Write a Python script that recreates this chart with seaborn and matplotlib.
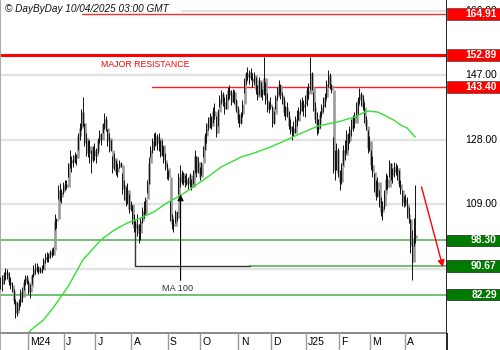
import numpy as np
import pandas as pd
import matplotlib
matplotlib.use("Agg")
import matplotlib.pyplot as plt
from matplotlib.patches import Rectangle
import matplotlib.transforms as mtransforms
import seaborn as sns

# ---------------- data (daily bars) ----------------
highs = [
    87.5, 88.0, 89.0, 90.2, 90.0, 89.0, 87.5, 86.0, 84.0, 81.0,
    80.0, 81.0, 84.0, 84.6, 87.0, 88.1, 88.0, 86.5, 85.5, 88.5,
    91.0, 91.6, 91.5, 90.8, 90.5, 91.0, 93.0, 94.5, 95.0, 94.5,
    95.5, 96.0, 96.2, 106.0, 105.0, 114.5, 115.2, 113.5, 115.5, 116.1,
    116.0, 121.0, 124.9, 123.0, 123.5, 124.3, 123.8, 130.0, 132.9, 137.0,
    140.5, 133.0, 130.0, 128.0, 127.9, 125.0, 126.0, 127.0, 125.5, 128.5,
    130.8, 130.0, 133.0, 135.8, 135.0, 131.0, 129.9, 128.0, 123.0, 124.0,
    122.0, 121.0, 122.0, 121.5, 118.1, 116.0, 114.0, 115.2, 112.0, 110.0,
    108.7, 106.0, 104.0, 106.0, 103.0, 105.0, 108.0, 110.0, 111.1, 116.0,
    122.8, 126.0, 128.5, 129.9, 130.2, 129.5, 130.0, 128.0, 127.9, 126.0,
    124.0, 121.0, 119.0, 110.2, 106.0, 104.5, 107.2, 107.0, 118.0, 120.5,
    119.0, 118.5, 117.5, 118.0, 117.0, 118.1, 116.5, 119.0, 124.9, 123.0,
    122.8, 120.0, 121.5, 126.0, 130.0, 132.9, 134.5, 135.8, 135.0, 137.5,
    138.8, 135.0, 137.0, 141.0, 142.6, 142.0, 140.5, 141.5, 143.5, 144.1,
    142.5, 143.0, 142.5, 140.0, 138.0, 135.5, 136.0, 139.6, 146.1, 148.0,
    149.4, 148.5, 149.0, 147.5, 148.0, 146.5, 144.0, 146.4, 145.0, 143.0,
    152.3, 145.0, 141.7, 139.0, 140.5, 138.0, 136.5, 141.0, 143.5, 145.5,
    144.5, 142.0, 140.5, 138.0, 139.0, 136.5, 134.0, 132.0, 133.5, 135.0,
    136.7, 137.5, 140.0, 140.5, 139.5, 141.0, 143.5, 144.6, 152.3, 148.0,
    142.0, 139.0, 136.0, 134.0, 136.5, 138.5, 140.5, 141.7, 145.5, 148.5,
    147.5, 144.5, 128.7, 125.0, 127.0, 125.5, 119.0, 121.0, 126.5, 128.0,
    130.8, 130.0, 132.0, 134.0, 135.2, 136.0, 139.0, 140.5, 143.2, 142.0,
    141.0, 139.0, 135.0, 130.8, 129.0, 124.9, 123.0, 118.1, 116.0, 117.0,
    113.1, 111.0, 110.0, 113.0, 118.1, 117.5, 122.0, 121.0, 119.5, 121.5,
    121.0, 120.5, 119.0, 116.0, 113.1, 111.5, 112.0, 111.1, 108.0, 104.5,
    101.3, 105.0, 114.6,
]
lows = [
    84.0, 83.5, 85.5, 86.5, 87.0, 85.0, 84.0, 83.0, 79.5, 75.5,
    76.0, 77.8, 79.0, 80.0, 83.7, 85.0, 85.5, 82.5, 81.3, 85.5,
    87.5, 88.5, 89.0, 88.5, 88.7, 88.8, 90.0, 91.5, 92.0, 92.0,
    93.0, 93.5, 94.0, 101.3, 102.0, 110.5, 109.8, 109.3, 112.0, 113.1,
    113.5, 117.0, 119.5, 118.5, 120.0, 121.0, 120.5, 125.0, 128.0, 130.8,
    132.0, 126.0, 123.0, 122.8, 121.0, 118.1, 121.5, 122.0, 121.0, 124.0,
    127.0, 126.5, 129.9, 131.0, 130.5, 126.0, 124.3, 124.5, 118.0, 119.0,
    117.5, 117.0, 119.5, 119.9, 112.0, 110.2, 108.5, 109.0, 106.4, 106.8,
    103.0, 100.8, 101.0, 99.5, 97.5, 98.5, 103.4, 105.0, 106.0, 112.2,
    115.0, 122.8, 124.0, 125.0, 126.0, 125.0, 124.5, 122.8, 123.0, 121.0,
    119.0, 116.5, 116.1, 104.0, 101.5, 100.8, 103.4, 104.0, 112.0, 114.0,
    115.0, 114.5, 114.0, 114.5, 113.5, 114.0, 113.1, 115.0, 118.0, 117.0,
    118.0, 116.1, 117.5, 122.8, 125.0, 127.0, 130.8, 131.5, 131.0, 133.0,
    134.0, 128.8, 132.0, 137.6, 138.5, 137.8, 135.5, 137.0, 139.5, 140.0,
    138.2, 139.0, 138.5, 136.0, 133.0, 131.6, 132.5, 134.5, 141.7, 144.5,
    145.5, 144.5, 145.5, 143.5, 144.0, 141.5, 139.6, 141.0, 140.5, 139.6,
    141.0, 138.5, 136.0, 135.8, 137.0, 131.7, 132.5, 137.0, 139.6, 141.0,
    140.0, 138.5, 135.0, 133.7, 134.5, 131.0, 129.5, 127.9, 129.0, 130.0,
    132.0, 133.7, 135.5, 136.5, 135.0, 134.6, 138.0, 140.0, 142.6, 142.5,
    136.5, 133.0, 129.3, 130.0, 131.5, 134.6, 136.0, 137.5, 140.0, 143.5,
    143.0, 141.7, 118.0, 116.1, 119.0, 117.0, 113.1, 115.0, 120.5, 122.0,
    124.0, 125.0, 127.0, 129.0, 130.5, 131.5, 134.6, 135.5, 138.5, 138.0,
    136.7, 133.0, 130.8, 124.0, 124.5, 119.0, 117.0, 112.5, 110.2, 111.0,
    108.0, 105.5, 104.3, 107.5, 113.1, 113.5, 117.0, 116.0, 115.2, 117.0,
    117.5, 116.0, 114.0, 112.0, 108.5, 108.1, 108.5, 105.0, 103.4, 94.5,
    86.6, 96.5, 97.5,
]
closes = [
    85.5, 87.0, 88.5, 89.0, 87.5, 86.0, 85.0, 83.5, 80.5, 77.0,
    79.0, 80.0, 83.0, 81.5, 86.0, 87.5, 86.0, 83.0, 84.5, 88.0,
    90.0, 89.5, 90.5, 89.0, 90.0, 89.5, 92.5, 93.5, 93.0, 94.0,
    95.0, 94.0, 95.5, 104.0, 104.5, 113.0, 111.0, 112.5, 114.5, 115.0,
    114.0, 120.0, 121.0, 122.0, 121.5, 123.5, 122.5, 129.0, 131.5, 136.0,
    133.0, 127.0, 128.5, 124.0, 126.0, 122.0, 125.0, 123.0, 124.5, 128.0,
    129.5, 128.0, 132.5, 134.0, 131.5, 127.5, 128.5, 125.0, 119.5, 122.5,
    118.5, 120.0, 121.0, 120.5, 113.5, 114.5, 110.0, 113.0, 107.5, 109.0,
    104.5, 102.0, 103.0, 101.0, 100.5, 104.0, 107.0, 106.0, 110.5, 115.0,
    121.0, 125.0, 127.5, 126.5, 129.0, 127.0, 128.5, 123.5, 126.5, 122.0,
    120.0, 119.5, 117.0, 105.5, 103.0, 102.5, 106.5, 105.0, 117.0, 115.5,
    118.0, 115.5, 116.5, 115.0, 116.0, 117.5, 114.0, 118.5, 123.0, 118.5,
    121.5, 117.0, 121.0, 125.0, 129.0, 131.5, 133.0, 134.5, 132.0, 136.5,
    135.0, 130.0, 136.0, 140.0, 141.5, 139.0, 137.0, 140.5, 142.5, 141.0,
    139.0, 142.0, 139.5, 137.0, 134.0, 133.0, 135.5, 138.5, 145.0, 147.5,
    146.5, 148.0, 146.0, 145.0, 147.0, 142.5, 140.5, 145.5, 141.5, 142.0,
    146.0, 139.5, 137.0, 138.5, 137.5, 133.0, 135.5, 140.5, 142.5, 144.0,
    141.0, 139.5, 136.0, 137.5, 135.0, 132.0, 130.5, 131.5, 130.0, 134.0,
    133.5, 136.5, 139.0, 137.5, 138.5, 139.5, 142.5, 141.5, 147.5, 143.5,
    137.5, 134.0, 131.0, 133.0, 135.5, 137.5, 139.0, 140.5, 144.5, 147.0,
    144.0, 142.5, 122.0, 119.0, 125.0, 118.0, 115.5, 120.0, 125.0, 123.5,
    129.5, 127.5, 131.0, 132.5, 134.5, 133.0, 138.0, 139.5, 141.5, 140.0,
    137.5, 134.0, 132.0, 125.5, 127.5, 120.5, 118.5, 113.5, 111.5, 115.5,
    109.0, 106.5, 108.5, 112.0, 116.5, 114.0, 121.0, 117.5, 118.5, 120.0,
    118.5, 119.5, 115.0, 113.0, 109.5, 110.5, 109.0, 106.0, 104.5, 96.5,
    92.0, 99.0, 100.0,
]

# 100-day moving average at a few trading days
ma_day = [14, 19, 26, 32, 41, 50, 61, 69, 77, 85, 93, 101, 109, 117, 126, 134,
          146, 154, 164, 174, 180, 193, 205, 215, 223, 229, 233, 239, 243, 247, 252]
ma_vals = [69.5, 72.1, 74.8, 78.4, 84.6, 92.5, 98.4, 101.3, 103.4, 104.9, 106.6,
           109.3, 111.4, 114.0, 117.0, 119.9, 122.8, 124.0, 125.8, 127.9, 129.3,
           132.0, 133.2, 134.6, 136.4, 136.1, 135.2, 133.7, 132.3, 131.4, 128.7]

resistance_levels = [164.91, 152.89, 143.40]
support_levels = [98.30, 90.67, 82.29]
grid_levels = [166.0, 147.0, 128.0, 109.0, 90.0]
grid_labels_shown = [166.0, 147.0, 128.0, 109.0]
month_labels = ["M24", "J", "J", "A", "S", "O", "N", "D", "J25", "F", "M", "A"]
holidays = ["2024-05-27", "2024-06-19", "2024-07-04", "2024-09-02", "2024-11-28",
            "2024-12-25", "2025-01-01", "2025-01-09", "2025-01-20", "2025-02-17"]
title = "\u00a9 DayByDay 10/04/2025 03:00 GMT"

# ---------------- build ----------------
n = len(highs)
dates = pd.bdate_range(start="2024-04-08", periods=n, freq="C", holidays=holidays)
df = pd.DataFrame({"date": dates, "high": highs, "low": lows, "close": closes})
df["day"] = np.arange(n)
df["open"] = df["close"].shift(1).fillna(df["close"])

sns.set_style("white")
plt.rcParams["font.family"] = ["Liberation Sans", "DejaVu Sans"]

W, H = 500, 350
fig = plt.figure(figsize=(5, 3.5), dpi=100)
plot_w, strip_h = 447, 17
ax = fig.add_axes([0, strip_h / H, plot_w / W, (H - strip_h) / H])
axs = fig.add_axes([0, 0, plot_w / W, strip_h / H])
axr = fig.add_axes([plot_w / W, strip_h / H, (W - plot_w) / W, (H - strip_h) / H])

ylo, yhi = 71.0, 169.1
xlo = -0.3
xhi = xlo + plot_w / 1.646
ax.set_xlim(xlo, xhi)
ax.set_ylim(ylo, yhi)
axr.set_ylim(ylo, yhi)
axr.set_xlim(0, 1)
axs.set_xlim(xlo, xhi)
axs.set_ylim(0, 1)

for a in (ax, axs, axr):
    a.set_xticks([])
    a.set_yticks([])
    for s in a.spines.values():
        s.set_visible(False)

# gridlines
for g in grid_levels:
    ax.axhline(g, color="#e2e2e2", lw=1.6, zorder=0)

# title background box (hides gridline under the title)
ax.add_patch(Rectangle((0, 1 - 13 / 333), 181 / plot_w, 13 / 333, transform=ax.transAxes,
                       facecolor="white", edgecolor="none", zorder=1))

# resistance lines
ax.axhline(resistance_levels[0], xmin=82 / plot_w, color="#ff3030", lw=1.0, zorder=2)
ax.axhline(resistance_levels[1], color="#ff0000", lw=2.2, zorder=2)
ax.axhline(resistance_levels[2], xmin=152 / plot_w, color="#ff2020", lw=1.0, zorder=2)
# support lines
ax.axhline(support_levels[0], color="#4caf4c", lw=1.1, zorder=2)
ax.axhline(support_levels[1], xmin=250 / plot_w, color="#4caf4c", lw=1.1, zorder=2)
ax.axhline(support_levels[2], color="#4caf4c", lw=1.1, zorder=2)

# annotation line from the August low to the 90.67 support
ax.plot([82, 82, (250 / 1.646) + xlo], [104.0, support_levels[1], support_levels[1]],
        color="#333333", lw=1.0, zorder=3)

# bars
body_lo = np.minimum(df["open"], df["close"])
body_hi = np.maximum(df["open"], df["close"])
ax.vlines(df["day"] + 0.35, body_lo, body_hi, color="#9a9a9a", lw=1.9, zorder=3)
ax.vlines(df["day"], df["low"], df["high"], color="#111111", lw=0.7, zorder=4)

# moving average
sns.lineplot(x=ma_day, y=ma_vals, ax=ax, color="#33e033", lw=1.0, zorder=5)
ax.set_xlim(xlo, xhi)
ax.set_ylim(ylo, yhi)
ax.set_xlabel("")
ax.set_ylabel("")

# MA 100 annotation
ax.annotate("", xy=(109.4, 111.8), xytext=(109.4, 86.5),
            arrowprops=dict(arrowstyle="-|>", color="black", lw=0.8, mutation_scale=9,
                            shrinkA=0, shrinkB=0), zorder=6)
ax.text(107.5, 84.2, "MA 100", ha="center", va="center", fontsize=6.6, color="#333333")

# red arrow
ax.annotate("", xy=(268.8, 90.4), xytext=(255.8, 114.0),
            arrowprops=dict(arrowstyle="-|>", color="#ff0000", lw=1.0, mutation_scale=10,
                            shrinkA=0, shrinkB=0), zorder=6)

ax.text(145 / plot_w, 150.0, "MAJOR RESISTANCE",
        transform=mtransforms.blended_transform_factory(ax.transAxes, ax.transData),
        ha="center", va="center", fontsize=6.3, color="#ff0000")

# title
fig.text(5 / W, 1 - 8.5 / H, title, ha="left", va="center", fontsize=7.2, style="italic", color="#111111")

# frame lines
ax.axvline(xlo, color="#aaaaaa", lw=1.5)
ax.axvline(xhi, color="black", lw=1.2, clip_on=False)

# bottom month strip
axs.axhline(1, color="#777777", lw=1.2, clip_on=False)
axs.axvline(xlo, color="#aaaaaa", lw=1.5)
axs.axvline(xhi, color="black", lw=1.2, clip_on=False)
month_start = df.groupby(df["date"].dt.to_period("M"))["day"].min().values[1:]
for pos, lab in zip(month_start, month_labels):
    axs.axvline(pos - 0.5, color="#999999", lw=1.0)
    axs.text(pos - 0.5 + 1.4, 0.45, lab, ha="left", va="center", fontsize=7.5, color="black")

# right-side labels
for g in grid_labels_shown:
    axr.text(0.94, g, f"{g:.2f}", ha="right", va="center", fontsize=7.5, color="black")
box_h = 11.5 / 3.395
for lv in resistance_levels:
    axr.add_patch(Rectangle((0.005, lv - box_h / 2), 0.99, box_h, facecolor="#ff0000",
                            edgecolor="#7a4a4a", lw=0.6, zorder=3))
    axr.text(0.94, lv, f"{lv:.2f}", ha="right", va="center", fontsize=7.4,
             fontweight="bold", color="white", zorder=4)
for lv in support_levels:
    axr.add_patch(Rectangle((0.005, lv - box_h / 2), 0.99, box_h, facecolor="#007a00",
                            edgecolor="#224422", lw=0.6, zorder=3))
    axr.text(0.94, lv, f"{lv:.2f}", ha="right", va="center", fontsize=7.4,
             fontweight="bold", color="white", zorder=4)

fig.savefig("out.png", dpi=100)
